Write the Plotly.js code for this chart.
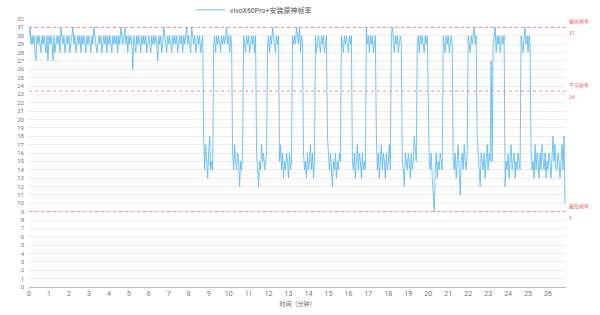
<!DOCTYPE html>
<html>
<head>
<meta charset="utf-8">
<script src="https://cdn.plot.ly/plotly-3.0.1.min.js"></script>
<style>html,body{margin:0;padding:0;background:#fff;}#chart{width:600px;height:315px;}</style>
</head>
<body>
<div id="chart"></div>
<script>
// Frame rate samples, one every 3 seconds
const sampleSeconds = 3;
const seriesName = 'vivoX60Pro+安装原神帧率';
const fps = [
  // 0 – 8.7 min
  30,31,29,30,29,30,28,27,30,29,30,29,28,30,29,30,29,28,30,27,
  30,29,30,29,27,30,28,29,30,29,30,28,31,30,29,30,28,29,30,29,
  30,28,29,30,31,29,30,28,29,30,29,30,28,30,29,30,29,28,30,29,
  30,29,28,30,29,31,30,29,28,29,30,29,30,28,29,30,29,30,28,30,
  29,30,29,28,30,29,30,29,30,28,30,29,31,30,29,30,31,29,30,28,
  30,29,30,29,26,30,29,28,30,29,30,29,28,30,29,30,29,30,28,29,
  30,29,28,30,29,30,29,30,29,27,30,29,30,28,29,31,30,29,28,30,
  29,30,29,28,30,29,30,29,30,28,29,30,29,30,28,30,29,30,31,29,
  30,29,28,31,30,29,30,28,29,30,29,30,28,29,30,
  18,14,17,15,13,16,18,14,15,14,
  29,30,28,30,29,30,29,28,30,29,30,29,30,31,29,30,28,30,29,
  16,14,17,15,14,16,15,12,15,14,16,
  30,29,28,30,29,30,28,29,30,29,30,28,30,
  16,14,12,15,14,17,15,16,14,15,16,
  29,30,28,30,29,31,30,29,28,30,29,30,
  15,17,14,16,13,15,14,16,15,13,16,14,15,
  30,29,30,29,31,30,29,31,28,30,29,
  16,14,15,13,16,14,15,17,14,16,13,15,
  30,28,29,30,29,28,30,29,30,28,29,30,
  18,15,14,16,13,12,15,14,16,13,15,14,16,15,
  30,29,28,30,29,30,29,28,30,29,30,
  15,14,16,13,15,17,14,16,15,13,16,14,15,14,
  31,29,30,28,30,29,30,28,29,30,
  18,14,16,13,15,17,14,16,15,13,16,14,15,17,14,
  30,31,29,28,30,29,30,28,29,30,29,
  15,14,12,16,15,14,16,15,13,16,14,15,18,16,15,
  29,30,28,30,29,30,29,28,30,29,30,
  18,15,14,16,13,11,9,14,16,13,15,14,16,15,14,
  30,29,28,30,29,30,28,29,30,29,
  15,14,16,13,15,17,14,11,15,16,14,17,15,14,16,
  30,29,28,30,29,30,31,29,30,
  18,15,14,12,16,15,14,16,13,15,17,14,16,15,27,15,
  29,30,31,28,30,29,30,28,29,30,29,30,
  12,15,14,16,13,15,17,14,15,16,13,15,14,16,15,14,
  30,29,28,30,31,29,30,28,30,29,
  16,14,15,13,17,14,16,15,13,16,14,17,15,14,16,13,15,14,16,15,
  13,16,18,15,17,14,14,16,15,13,15,17,14,18,10
];
const minutes = fps.map((_, i) => i * sampleSeconds / 60);

const refValues = [31, 23.4, 9];
const refNames = ['最高帧率', '平均帧率', '最低帧率'];
const refTexts = ['31', '24', '9'];

const xTicks = Array.from({length: 27}, (_, i) => i);
const yTicks = Array.from({length: 33}, (_, i) => i);

const font = "Roboto, 'Noto Sans CJK SC', sans-serif";
const refColor = '#e8686a';

const shapes = refValues.map(v => ({
  type: 'line', xref: 'paper', x0: 0, x1: 1, yref: 'y', y0: v, y1: v,
  line: {color: 'rgba(236,120,120,0.8)', width: 1, dash: 'dot'}
}));
const annotations = [];
refValues.forEach((v, i) => {
  annotations.push({xref: 'paper', x: 1, xanchor: 'left', xshift: 1, yref: 'y', y: v, yanchor: 'bottom', yshift: 0,
    text: refNames[i], showarrow: false, font: {size: 5, color: refColor, family: font}});
  annotations.push({xref: 'paper', x: 1, xanchor: 'left', xshift: 1, yref: 'y', y: v, yanchor: 'top', yshift: -1,
    text: refTexts[i], showarrow: false, font: {size: 5, color: refColor, family: font}});
});

const trace = {
  x: minutes, y: fps, type: 'scatter', mode: 'lines', name: seriesName,
  line: {color: 'rgba(90,184,244,0.85)', width: 1}
};

const layout = {
  width: 600, height: 315,
  margin: {l: 29, r: 34, t: 19, b: 28, autoexpand: false},
  paper_bgcolor: '#fff', plot_bgcolor: '#fff',
  font: {family: font, size: 7, color: '#666'},
  showlegend: true,
  legend: {orientation: 'h', x: 0.30, xanchor: 'left', y: 1.034, yanchor: 'middle', yref: 'paper',
    font: {size: 7, color: '#555', family: font}, itemwidth: 30, bgcolor: 'rgba(0,0,0,0)'},
  xaxis: {
    range: [0, 26.9], tickvals: xTicks, ticktext: xTicks.map(String),
    showgrid: false, zeroline: false, showline: true, linecolor: '#bbb', linewidth: 1,
    ticks: '', ticklen: 0, tickfont: {size: 7, color: '#777'},
    title: {text: '时间（分钟）', font: {size: 6, color: '#666'}, standoff: 4},
    fixedrange: true
  },
  yaxis: {
    range: [0, 32], tickvals: yTicks, ticktext: yTicks.map(String),
    showgrid: true, gridcolor: '#ececec', gridwidth: 1, zeroline: false, showline: false,
    ticks: '', tickfont: {size: 6, color: '#777'}, ticklabelstandoff: 4,
    fixedrange: true
  },
  shapes: shapes,
  annotations: annotations
};

Plotly.newPlot('chart', [trace], layout, {displayModeBar: false, staticPlot: true});
</script>
</body>
</html>
